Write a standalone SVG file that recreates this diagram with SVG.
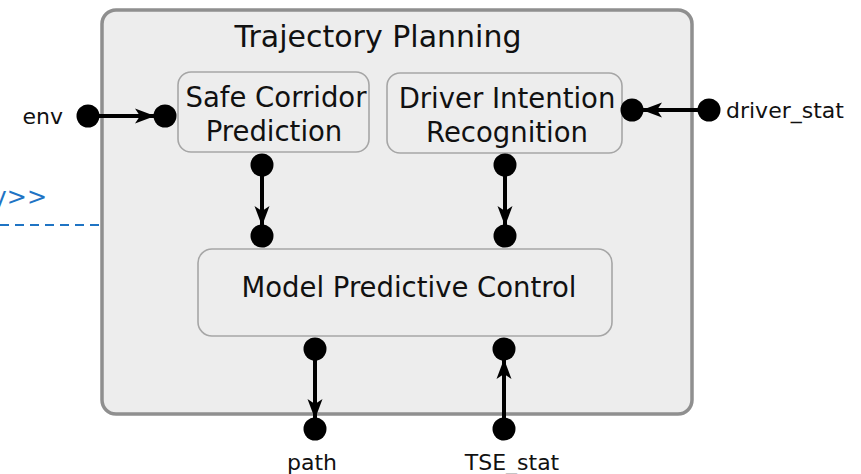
<svg xmlns="http://www.w3.org/2000/svg" width="861" height="474" viewBox="0 0 861 474">
  <style>
    text { font-family: "DejaVu Sans", Verdana, sans-serif; fill: #111; }
    .block { fill: #ededed; stroke: #a6a6a6; stroke-width: 1.6; }
    .title { font-size: 30px; text-anchor: middle; }
    .label { font-size: 27.5px; text-anchor: middle; }
    .io { font-size: 22px; }
    .port { fill: #000; }
    .flow { stroke: #000; stroke-width: 4; fill: none; marker-end: url(#arrow); }
  </style>
  <defs>
    <marker id="arrow" viewBox="0 0 20 16" refX="19" refY="8" markerWidth="20" markerHeight="16" markerUnits="userSpaceOnUse" orient="auto">
      <path d="M0,0.5 L20,8 L0,15.5 L5,8 Z" fill="#000"/>
    </marker>
  </defs>

  <rect width="861" height="474" fill="#fff"/>

  <!-- dependency stub entering from the left -->
  <g id="stereotype">
    <text x="47" y="205" font-size="24" text-anchor="end" style="fill:#1f74c4">y&gt;&gt;</text>
    <line x1="0" y1="225" x2="101" y2="225" stroke="#1f74c4" stroke-width="2" stroke-dasharray="9,6"/>
  </g>

  <!-- enclosing component -->
  <g id="trajectory-planning">
    <rect x="102" y="10" width="590" height="404" rx="14" fill="#ededed" stroke="#8f8f8f" stroke-width="3.5"/>
    <text class="title" x="378" y="47">Trajectory Planning</text>
  </g>

  <g id="safe-corridor">
    <rect class="block" x="178" y="72" width="191" height="80" rx="13"/>
    <text class="label" x="276" y="107">Safe Corridor</text>
    <text class="label" x="274" y="141">Prediction</text>
  </g>

  <g id="driver-intention">
    <rect class="block" x="387" y="73" width="235" height="80" rx="13"/>
    <text class="label" x="507" y="108">Driver Intention</text>
    <text class="label" x="507" y="142">Recognition</text>
  </g>

  <g id="mpc">
    <rect class="block" x="198" y="249" width="414" height="87" rx="14"/>
    <text class="label" x="409" y="297">Model Predictive Control</text>
  </g>

  <!-- connectors -->
  <g id="connectors">
    <line class="flow" x1="88" y1="116" x2="154" y2="116"/>
    <line class="flow" x1="709" y1="110" x2="643" y2="110"/>
    <line class="flow" x1="262" y1="165" x2="262" y2="225"/>
    <line class="flow" x1="505" y1="165" x2="505" y2="225"/>
    <line class="flow" x1="315" y1="349" x2="315" y2="418"/>
    <line class="flow" x1="504" y1="429" x2="504" y2="360"/>
  </g>

  <!-- ports -->
  <g id="ports">
    <circle class="port" cx="88" cy="116" r="11.5"/>
    <circle class="port" cx="165" cy="116" r="11.5"/>
    <circle class="port" cx="709" cy="110" r="11.5"/>
    <circle class="port" cx="632" cy="110" r="11.5"/>
    <circle class="port" cx="262" cy="165" r="11.5"/>
    <circle class="port" cx="262" cy="236" r="11.5"/>
    <circle class="port" cx="505" cy="165" r="11.5"/>
    <circle class="port" cx="505" cy="236" r="11.5"/>
    <circle class="port" cx="315" cy="349" r="11.5"/>
    <circle class="port" cx="315" cy="429" r="11.5"/>
    <circle class="port" cx="504" cy="349" r="11.5"/>
    <circle class="port" cx="504" cy="429" r="11.5"/>
  </g>

  <!-- port labels -->
  <g id="io-labels">
    <text class="io" x="63" y="124" text-anchor="end">env</text>
    <text class="io" x="726" y="118">driver_stat</text>
    <text class="io" x="312" y="470" text-anchor="middle">path</text>
    <text class="io" x="512" y="470" text-anchor="middle">TSE_stat</text>
  </g>
</svg>
